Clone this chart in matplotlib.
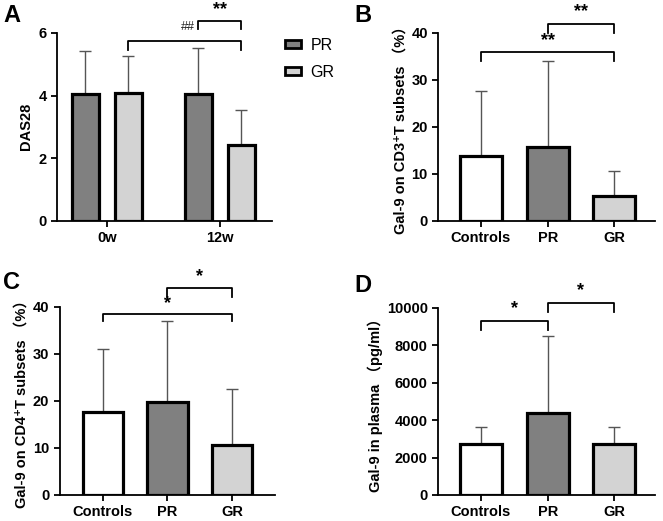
import matplotlib
matplotlib.use("Agg")
import matplotlib.pyplot as plt
from matplotlib.patches import Patch

plt.rcParams['font.family'] = ['Liberation Sans', 'DejaVu Sans', 'Noto Sans CJK SC']

# panel A data
weeks = ["0w", "12w"]
das_pr = [4.05, 4.05]
das_pr_sd = [1.37, 1.45]
das_gr = [4.08, 2.43]
das_gr_sd = [1.17, 1.10]

# panels B-D data
groups = ["Controls", "PR", "GR"]
cd3_mean = [13.8, 15.8, 5.2]
cd3_sd = [13.8, 18.3, 5.5]
cd4_mean = [17.6, 19.8, 10.7]
cd4_sd = [13.4, 17.2, 11.8]
plasma_mean = [2750, 4380, 2700]
plasma_sd = [900, 4140, 950]

DARK = "#808080"
LIGHT = "#d3d3d3"
bar_colors = ["white", DARK, LIGHT]


def style_axis(ax):
    for s in ["top", "right"]:
        ax.spines[s].set_visible(False)
    for s in ["left", "bottom"]:
        ax.spines[s].set_linewidth(1.3)
    ax.tick_params(width=1.3, length=4, labelsize=10.5)
    for lab in ax.get_xticklabels() + ax.get_yticklabels():
        lab.set_fontweight("bold")


def bracket(ax, x1, x2, y, drop, text, tsize=13, ty=None):
    ax.plot([x1, x1, x2, x2], [y - drop, y, y, y - drop], color="black",
            lw=1.3, clip_on=False)
    if text:
        ax.text((x1 + x2) / 2, y + (ty if ty is not None else drop * 0.3), text,
                ha="center", va="bottom", fontsize=tsize, fontweight="bold",
                clip_on=False)


def bar_panel(ax, means, sds, ylim, yticks, ylabel):
    x = range(len(groups))
    ax.bar(x, means, width=0.63, color=bar_colors, edgecolor="black",
           linewidth=2.3, zorder=3)
    ax.errorbar(x, means, yerr=[[0] * len(sds), sds], fmt="none",
                ecolor="#555555", elinewidth=1, capsize=4, capthick=1, zorder=2)
    ax.set_xticks(list(x))
    ax.set_xticklabels(groups)
    ax.set_ylim(*ylim)
    ax.set_yticks(yticks)
    ax.set_ylabel(ylabel, fontsize=10.5, fontweight="bold", labelpad=3)
    style_axis(ax)


fig = plt.figure(figsize=(6.63, 5.21), dpi=100)
axA = fig.add_axes([0.086, 0.576, 0.324, 0.361])
axB = fig.add_axes([0.661, 0.576, 0.327, 0.361])
axC = fig.add_axes([0.090, 0.050, 0.325, 0.361])
axD = fig.add_axes([0.661, 0.050, 0.327, 0.359])

# Panel A
off = 0.19
w = 0.24
xa = [0, 1]
axA.bar([v - off for v in xa], das_pr, width=w, color=DARK, edgecolor="black",
        linewidth=2.3, zorder=3)
axA.bar([v + off for v in xa], das_gr, width=w, color=LIGHT, edgecolor="black",
        linewidth=2.3, zorder=3)
axA.errorbar([v - off for v in xa], das_pr, yerr=[[0, 0], das_pr_sd], fmt="none",
             ecolor="#555555", elinewidth=1, capsize=4, capthick=1, zorder=2)
axA.errorbar([v + off for v in xa], das_gr, yerr=[[0, 0], das_gr_sd], fmt="none",
             ecolor="#555555", elinewidth=1, capsize=4, capthick=1, zorder=2)
axA.set_xlim(-0.44, 1.46)
axA.set_ylim(0, 6)
axA.set_yticks([0, 2, 4, 6])
axA.set_xticks(xa)
axA.set_xticklabels(weeks)
axA.set_ylabel("DAS28", fontsize=10.5, fontweight="bold")
style_axis(axA)
bracket(axA, off, 1 + off, 5.74, 0.28, None)
bracket(axA, 1 - off, 1 + off, 6.38, 0.25, "**", ty=0.1)
axA.text(1 - off - 0.03, 6.0, "##", ha="right", va="bottom", fontsize=9,
         color="#222222", clip_on=False)
axA.legend(handles=[Patch(facecolor=DARK, edgecolor="black", linewidth=2),
                    Patch(facecolor=LIGHT, edgecolor="black", linewidth=2)],
           labels=["PR", "GR"], loc="upper left", bbox_to_anchor=(1.06, 0.975),
           frameon=False, fontsize=11.5, handlelength=1.0, handleheight=0.45,
           labelspacing=0.75, borderpad=0, borderaxespad=0, handletextpad=0.6)

# Panel B
bar_panel(axB, cd3_mean, cd3_sd, (0, 40), [0, 10, 20, 30, 40],
          "Gal-9 on CD3\u207aT subsets （%）")
axB.set_xlim(-0.64, 2.61)
bracket(axB, 0, 2, 36.0, 2.0, "**", ty=0.6)
bracket(axB, 1, 2, 41.9, 2.0, "**", ty=0.8)

# Panel C
bar_panel(axC, cd4_mean, cd4_sd, (0, 40), [0, 10, 20, 30, 40],
          "Gal-9 on CD4\u207aT subsets （%）")
axC.set_xlim(-0.67, 2.67)
bracket(axC, 0, 2, 38.5, 1.5, "*", ty=0.4)
bracket(axC, 1, 2, 44.0, 1.9, "*", ty=0.7)

# Panel D
bar_panel(axD, plasma_mean, plasma_sd, (0, 10000), [0, 2000, 4000, 6000, 8000, 10000],
          "Gal-9 in plasma （pg/ml）")
axD.set_xlim(-0.64, 2.61)
bracket(axD, 0, 1, 9300, 480, "*", ty=200)
bracket(axD, 1, 2, 10270, 480, "*", ty=200)

for label, x, y in [("A", 0.005, 0.992), ("B", 0.535, 0.992),
                    ("C", 0.005, 0.48), ("D", 0.535, 0.475)]:
    fig.text(x, y, label, fontsize=17, fontweight="bold", ha="left", va="top")

fig.savefig("out.png", dpi=100)
